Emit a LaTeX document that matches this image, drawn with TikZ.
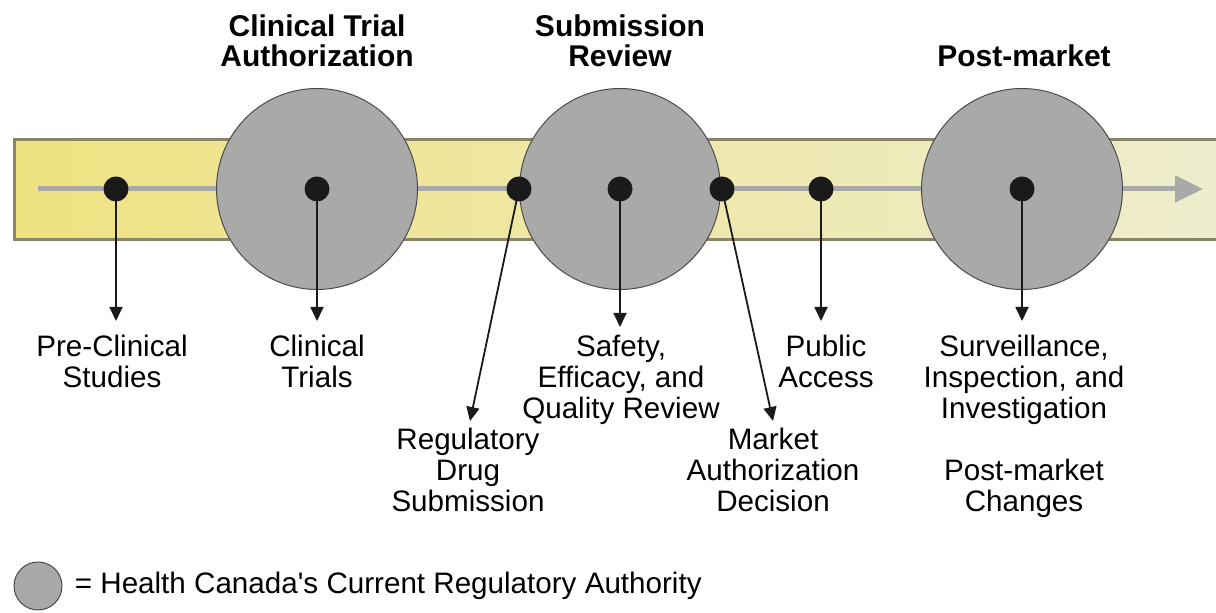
\documentclass[tikz,border=0pt]{standalone}
\usepackage{fontspec}
\setmainfont{Liberation Sans}
\usepackage{xcolor}
\usetikzlibrary{arrows.meta,positioning,calc}

\definecolor{bandleft}{HTML}{EFE282}
\definecolor{bandright}{HTML}{EEEDCD}
\definecolor{bandedge}{HTML}{8C8466}
\definecolor{authgray}{HTML}{A9A9A9}
\definecolor{dotblack}{HTML}{1A1A1A}

\begin{document}
\begin{tikzpicture}[
  x=0.5pt, y=-0.5pt,
  authority/.style={circle, draw=black!70, line width=0.5pt, fill=authgray, minimum size=100.5pt, inner sep=0pt},
  stage/.style={circle, fill=dotblack, minimum size=12.5pt, inner sep=0pt},
  lbl/.style={align=center, anchor=north, font=\fontsize{14.8}{15.5}\selectfont, inner sep=0pt},
  phase/.style={align=center, anchor=north, font=\bfseries\fontsize{15}{15}\selectfont, inner sep=0pt},
  arr/.style={-{Triangle[length=7pt,width=6.5pt]}, line width=0.9pt, dotblack},
  flow/.style={-{Triangle[length=14pt,width=13pt]}, line width=2.5pt, authgray}
]
\useasboundingbox (0,0) rectangle (1216,613);

% timeline band
\shade[left color=bandleft, right color=bandright] (14,140) rectangle (1216,240);
\draw[bandedge, line width=1.5pt] (1216,140) -- (14,140) -- (14,240) -- (1216,240);
\coordinate (start) at (38,189);
\coordinate (finish) at (1203,189);
\draw[flow] (start) -- (finish);

% regulatory authority phases
\node[authority] (c1) at (317,189) {};
\node[authority] (c2) at (620,189) {};
\node[authority] (c3) at (1022,189) {};
\node[phase] (t1) at (317,14) {Clinical Trial\\Authorization};
\node[phase] (t2) at (620,14) {Submission\\Review};
\node[phase] (t3) at (1024,44) {Post-market};

% milestones along the timeline
\node[stage] (d1) at (116,189) {};
\node[stage] (d2) at (317,189) {};
\node[stage] (d3) at (519,189) {};
\node[stage] (d4) at (620,189) {};
\node[stage] (d5) at (722,189) {};
\node[stage] (d6) at (821,189) {};
\node[stage] (d7) at (1022,189) {};

\coordinate (e1) at (116,321);
\coordinate (e2) at (317,321);
\coordinate (e3) at (470,421);
\coordinate (e4) at (620,327);
\coordinate (e5) at (773,421);
\coordinate (e6) at (821,321);
\coordinate (e7) at (1022,321);

\foreach \i in {1,...,7}
  \draw[arr] (d\i.center) -- (e\i);

% milestone labels
\node[lbl] (l1) at (112,335) {Pre-Clinical\\Studies};
\node[lbl] (l2) at (317,335) {Clinical\\Trials};
\node[lbl] (l3) at (468,428) {Regulatory\\Drug\\Submission};
\node[lbl] (l4) at (621,335) {Safety,\\Efficacy, and\\Quality Review};
\node[lbl] (l5) at (773,428) {Market\\Authorization\\Decision};
\node[lbl] (l6) at (826,335) {Public\\Access};
\node[lbl] (l7) at (1024,335) {Surveillance,\\Inspection, and\\Investigation\\[15.5pt]Post-market\\Changes};

% legend
\node[authority, minimum size=24pt] (key) at (38,586) {};
\node[lbl, anchor=west, right=6pt of key] (keytext) {= Health Canada\textquotesingle s Current Regulatory Authority};
\end{tikzpicture}
\end{document}
